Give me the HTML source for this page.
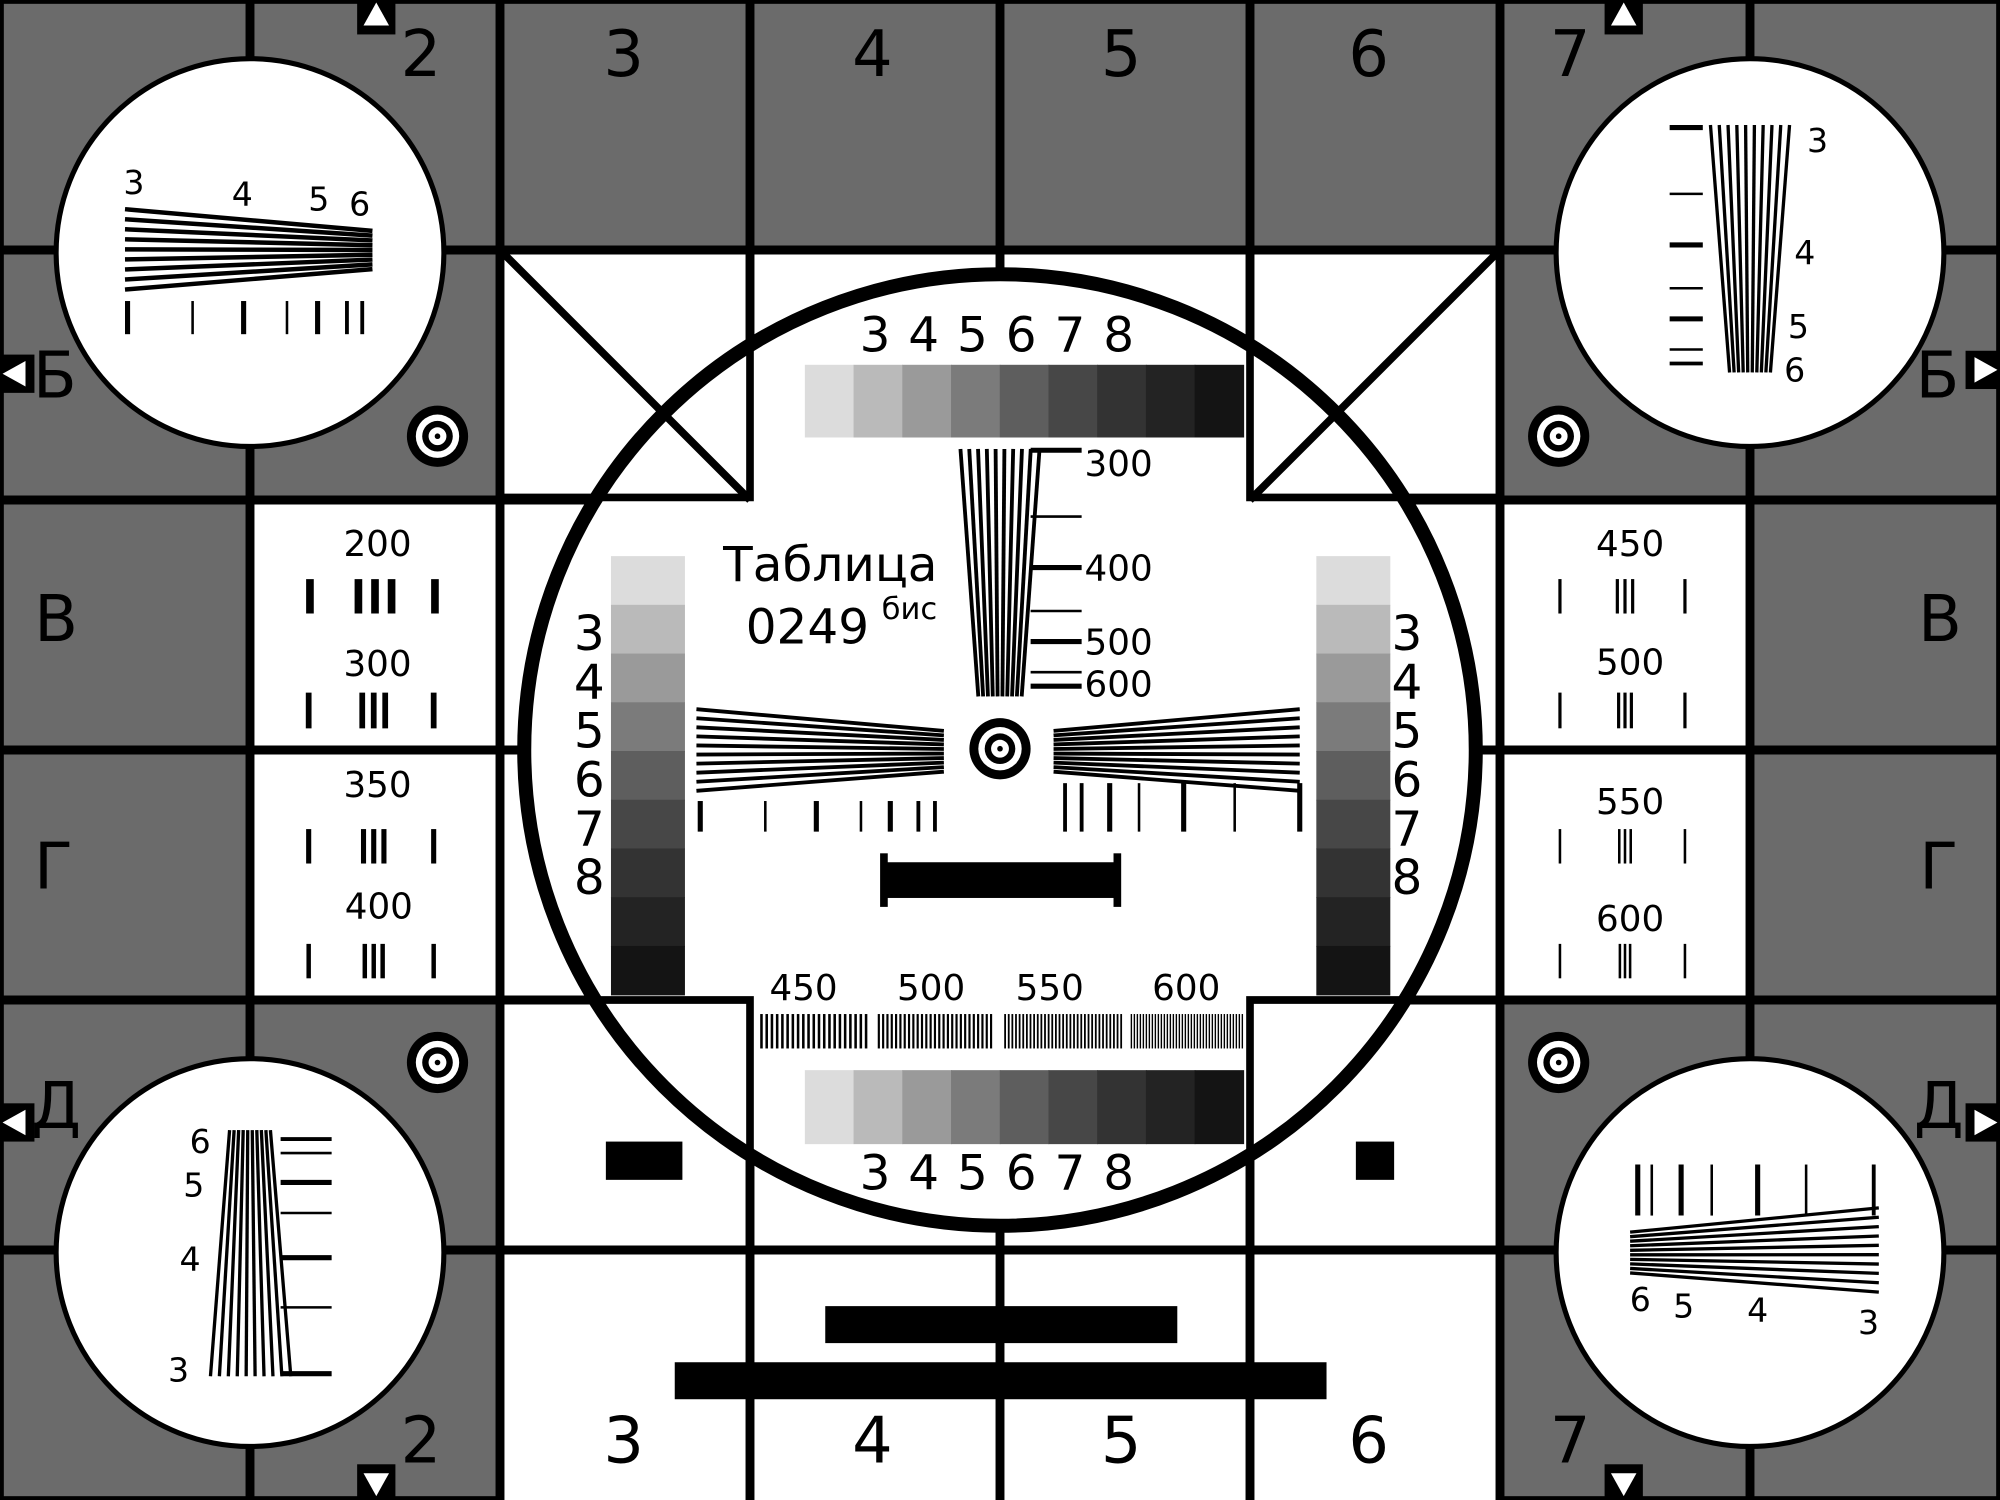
<!DOCTYPE html>
<html><head><meta charset="utf-8"><style>
html,body{margin:0;padding:0;background:#fff}
svg{display:block}
text{font-family:"DejaVu Sans","Liberation Sans",sans-serif;fill:#000}
</style></head><body>
<svg id="s" width="2000" height="1500" viewBox="0 0 1568 1176" preserveAspectRatio="none" xmlns="http://www.w3.org/2000/svg">
<rect x="0" y="0" width="1568" height="1176" fill="#6b6b6b" stroke="#000" stroke-width="6"/>
<rect x="392" y="196" width="784" height="980" fill="#fff"/>
<rect x="196" y="392" width="196" height="392" fill="#fff"/>
<rect x="1176" y="392" width="196" height="392" fill="#fff"/>
<g id="grid" stroke="#000" stroke-width="7"></g>
<g stroke="#000" stroke-width="6" fill="none">
<line x1="392" y1="196" x2="588" y2="392"/>
<line x1="1176" y1="196" x2="980" y2="392"/>
</g>
<circle cx="784" cy="588" r="373" fill="#fff" stroke="#000" stroke-width="11"/>
<g stroke="#000" stroke-width="6" fill="none">
<polyline points="392,390 588,390 588,196"/>
<polyline points="1176,390 980,390 980,196"/>
<line x1="519" y1="323" x2="588" y2="392"/>
<line x1="1049" y1="323" x2="980" y2="392"/>
<polyline points="392,784 588,784 588,905"/>
<polyline points="1176,784 980,784 980,905"/>
<line x1="784" y1="196" x2="784" y2="216"/>
<line x1="784" y1="960" x2="784" y2="1176"/>
</g>
<g id="dyn"></g>
<g fill="#fff" stroke="#000" stroke-width="4">
<circle cx="196" cy="198" r="152"/><circle cx="1372" cy="198" r="152"/>
<circle cx="196" cy="982" r="152"/><circle cx="1372" cy="982" r="152"/>
</g>
<g id="dyn2"></g>
<rect x="693" y="676" width="184" height="28"/>
<rect x="690" y="669" width="6" height="42"/><rect x="873" y="669" width="6" height="42"/>
<rect x="647" y="1024" width="276" height="29"/>
<rect x="529" y="1068" width="511" height="29"/>
<rect x="475" y="895" width="60" height="30"/>
<rect x="1063" y="895" width="30" height="30"/>
<g font-size="50" text-anchor="middle" dominant-baseline="central">
<text x="330" y="43">2</text><text x="489" y="43">3</text><text x="684" y="43">4</text><text x="879" y="43">5</text><text x="1073" y="43">6</text><text x="1231" y="43">7</text>
<text x="330" y="1130">2</text><text x="489" y="1130">3</text><text x="684" y="1130">4</text><text x="879" y="1130">5</text><text x="1073" y="1130">6</text><text x="1231" y="1130">7</text>
<text x="43" y="295">Б</text><text x="44" y="486">В</text><text x="42" y="680">Г</text><text x="44" y="868">Д</text>
<text x="1519" y="295">Б</text><text x="1521" y="486">В</text><text x="1520" y="680">Г</text><text x="1520" y="868">Д</text>
</g>
<g font-size="38" text-anchor="middle" dominant-baseline="central">
<text x="651" y="443">Таблица</text><text x="633" y="492">0249</text>
</g>
<text x="713" y="478" font-size="24" text-anchor="middle" dominant-baseline="central">бис</text>
<g font-size="28" text-anchor="middle" dominant-baseline="central">
<text x="296" y="427">200</text><text x="296" y="521">300</text><text x="296" y="616">350</text><text x="297" y="711">400</text>
<text x="1278" y="427">450</text><text x="1278" y="520">500</text><text x="1278" y="629">550</text><text x="1278" y="721">600</text>
<text x="877" y="364">300</text><text x="877" y="446">400</text><text x="877" y="504">500</text><text x="877" y="537">600</text>
<text x="630" y="775">450</text><text x="730" y="775">500</text><text x="823" y="775">550</text><text x="930" y="775">600</text>
</g>
<g font-size="26" text-anchor="middle" dominant-baseline="central">
<text x="105" y="143">3</text><text x="190" y="152">4</text><text x="250" y="156">5</text><text x="282" y="160">6</text>
<text x="1425" y="110">3</text><text x="1415" y="198">4</text><text x="1410" y="256">5</text><text x="1407" y="290">6</text>
<text x="157" y="895">6</text><text x="152" y="929">5</text><text x="149" y="987">4</text><text x="140" y="1074">3</text>
<text x="1286" y="1019">6</text><text x="1320" y="1024">5</text><text x="1378" y="1027">4</text><text x="1465" y="1037">3</text>
</g>
<g id="nums" font-size="38" text-anchor="middle" dominant-baseline="central"></g>
</svg>
<script>
var NS="http://www.w3.org/2000/svg";
function el(p,t,a){var e=document.createElementNS(NS,t);for(var k in a)e.setAttribute(k,a[k]);document.getElementById(p).appendChild(e);return e;}
function L(p,x1,y1,x2,y2,w){el(p,'line',{x1:x1,y1:y1,x2:x2,y2:y2,stroke:'#000','stroke-width':w||6});}
for(var i=1;i<8;i++)L('grid',i*196,0,i*196,1176,7);
for(var j=1;j<6;j++)L('grid',0,j*196,1568,j*196,7);
var sh=['#dcdcdc','#bababa','#9a9a9a','#7b7b7b','#5e5e5e','#474747','#333','#232323','#141414'];
for(var i=0;i<9;i++){
 el('dyn','rect',{x:631+i*38.2,y:286,width:38.8,height:57,fill:sh[i]});
 el('dyn','rect',{x:631+i*38.2,y:839,width:38.8,height:58,fill:sh[i]});
 el('dyn','rect',{x:479,y:436+i*38.2,width:58,height:38.8,fill:sh[i]});
 el('dyn','rect',{x:1032,y:436+i*38.2,width:58,height:38.8,fill:sh[i]});
}
var N=['3','4','5','6','7','8'];
for(var i=0;i<6;i++){
 el('nums','text',{x:686+i*38.2,y:263}).textContent=N[i];
 el('nums','text',{x:686+i*38.2,y:920}).textContent=N[i];
 el('nums','text',{x:462,y:497+i*38.3}).textContent=N[i];
 el('nums','text',{x:1103,y:497+i*38.3}).textContent=N[i];
}
function wedge(p,ax1,ay1,ax2,ay2,bx1,by1,bx2,by2,n,w){
 for(var k=0;k<n;k++){var t=k/(n-1);
  L(p,ax1+(ax2-ax1)*t,ay1+(ay2-ay1)*t,bx1+(bx2-bx1)*t,by1+(by2-by1)*t,w);}
}
wedge('dyn',753,352,815,352,767,546,801,546,10,3);
wedge('dyn',546,556,546,620,740,573,740,605,10,3);
wedge('dyn',1019,556,1019,620,826,573,826,605,10,3);
wedge('dyn2',98,164,98,227,292,181,292,211,9,3.5);
wedge('dyn2',1341,98,1403,98,1356,292,1388,292,10,2.6);
wedge('dyn2',180,886,212,886,165,1079,228,1079,10,2.6);
wedge('dyn2',1278,966,1278,998,1473,947,1473,1013,10,2.6);
[[549,4],[600,2],[640,4],[675,2],[698,4],[720,3],[733,3]].forEach(function(a){L('dyn',a[0],628,a[0],652,a[1]);L('dyn',1568-a[0],614,1568-a[0],652,a[1]);});
[[100,4],[151,2],[191,4],[225,2],[249,4],[272,3],[284,3]].forEach(function(a){L('dyn2',a[0],236,a[0],262,a[1]);});
[[1284,4],[1295,2],[1318,4],[1342,2],[1378,4],[1416,2],[1469,3]].forEach(function(a){L('dyn2',a[0],913,a[0],953,a[1]);});
[[100,4],[152,2],[192,4],[226,2],[250,4],[274,2],[285,3]].forEach(function(a){L('dyn2',1309,a[0],1335,a[0],a[1]);});
[[893,3],[904,2],[927,4],[951,2],[986,4],[1025,2],[1077,4]].forEach(function(a){L('dyn2',220,a[0],260,a[0],a[1]);});
[[353,4],[405,2],[445,4],[479,2],[503,4],[527,2],[538,4]].forEach(function(a){L('dyn',808,a[0],848,a[0],a[1]);});
function grp(x1,x2,n,w){for(var k=0;k<n;k++){var x=x1+(x2-x1)*k/(n-1);L('dyn',x,795,x,822,w);}}
grp(597,679,21,2);grp(689,777,27,1.7);grp(788,879,33,1.4);grp(887,974,38,1.1);
function bars(cx,y1,y2,w,sp){L('dyn',cx-51,y1,cx-51,y2,w);L('dyn',cx-sp,y1,cx-sp,y2,w);L('dyn',cx,y1,cx,y2,w);L('dyn',cx+sp,y1,cx+sp,y2,w);L('dyn',cx+47,y1,cx+47,y2,w);}
bars(294,454,481,6,13);bars(293,543,571,4.5,9);bars(293,650,677,4,8);bars(293,740,767,3.5,7);
bars(1274,454,481,2.5,6);bars(1274,543,571,2.5,5);bars(1274,650,677,2,4.5);bars(1274,740,767,2,4);
[[343,342],[1222,342],[343,833],[1222,833],[784,587]].forEach(function(c){
 var p=c[0]==784?'dyn':'dyn2';
 el(p,'circle',{cx:c[0],cy:c[1],r:24,fill:'#000'});
 el(p,'circle',{cx:c[0],cy:c[1],r:17,fill:'#fff'});
 el(p,'circle',{cx:c[0],cy:c[1],r:12,fill:'#000'});
 el(p,'circle',{cx:c[0],cy:c[1],r:7,fill:'#fff'});
 el(p,'circle',{cx:c[0],cy:c[1],r:2.2,fill:'#000'});
});
function arr(x,y,d){el('dyn2','rect',{x:x-15,y:y-15,width:30,height:30,fill:'#000'});
 var p={u:[[x,y-10],[x-10,y+8],[x+10,y+8]],d:[[x,y+10],[x-10,y-8],[x+10,y-8]],l:[[x-10,y],[x+8,y-10],[x+8,y+10]],r:[[x+10,y],[x-8,y-10],[x-8,y+10]]}[d];
 el('dyn2','polygon',{points:p.map(function(q){return q.join(',')}).join(' '),fill:'#fff'});}
arr(295,12,'u');arr(1273,12,'u');arr(295,1163,'d');arr(1273,1163,'d');
arr(12,293,'l');arr(12,880,'l');arr(1556,290,'r');arr(1556,880,'r');
</script>
</body></html>
